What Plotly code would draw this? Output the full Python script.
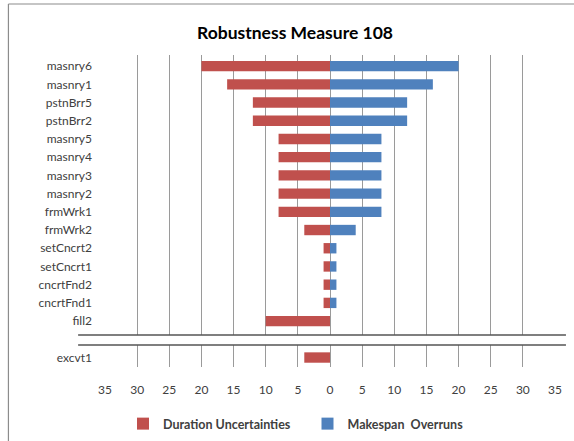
import plotly.graph_objects as go

categories = ["masnry6", "masnry1", "pstnBrr5", "pstnBrr2", "masnry5", "masnry4",
              "masnry3", "masnry2", "frmWrk1", "frmWrk2", "setCncrt2", "setCncrt1",
              "cncrtFnd2", "cncrtFnd1", "fill2", " ", "excvt1"]
duration_uncertainties = [20, 16, 12, 12, 8, 8, 8, 8, 8, 4, 1, 1, 1, 1, 10, None, 4]
makespan_overruns = [20, 16, 12, 12, 8, 8, 8, 8, 8, 4, 1, 1, 1, 1, 0, None, 0]
tick_vals = [-35, -30, -25, -20, -15, -10, -5, 0, 5, 10, 15, 20, 25, 30, 35]
tick_text = [str(abs(v)) for v in tick_vals]

RED = "#C0504D"
BLUE = "#4F81BD"
FONT = "Lato, 'Liberation Sans', sans-serif"

W, H = 574, 441
L, R, T, B = 105, 17, 55, 74
y_range = [16.52, -0.61]

fig = go.Figure()
fig.add_trace(go.Bar(
    y=categories, x=[-v if v is not None else None for v in duration_uncertainties],
    orientation="h", name="Duration Uncertainties\u00a0\u00a0\u00a0\u00a0", marker=dict(color=RED, line=dict(width=0)),
    width=0.57))
fig.add_trace(go.Bar(
    y=categories, x=makespan_overruns,
    orientation="h", name="Makespan  Overruns", marker=dict(color=BLUE, line=dict(width=0)),
    width=0.57))

plot_w = W - L - R
plot_h = H - T - B


def px_to_paper_x(px):
    return (px - L) / plot_w


def px_to_paper_y(py):
    return (H - B - py) / plot_h


def data_y_to_paper(yv):
    return (y_range[0] - yv) / (y_range[0] - y_range[1])


shapes = []
# axis break band between fill2 and excvt1
gap_idx = categories.index(" ")
b1 = data_y_to_paper(gap_idx - 0.24)
b2 = data_y_to_paper(gap_idx + 0.31)
x0b, x1b = px_to_paper_x(78), px_to_paper_x(568)
shapes.append(dict(type="rect", xref="paper", yref="paper", x0=x0b, x1=x1b, y0=b2, y1=b1,
                   fillcolor="white", line=dict(width=0), layer="above"))
for yy in (b1, b2):
    shapes.append(dict(type="line", xref="paper", yref="paper", x0=x0b, x1=x1b, y0=yy, y1=yy,
                       line=dict(color="#555555", width=1.5), layer="above"))
# chart frame (top and left edges)
shapes.append(dict(type="line", xref="paper", yref="paper", x0=px_to_paper_x(8), x1=px_to_paper_x(580),
                   y0=px_to_paper_y(4), y1=px_to_paper_y(4), line=dict(color="#8c8c8c", width=1.2)))
shapes.append(dict(type="line", xref="paper", yref="paper", x0=px_to_paper_x(8), x1=px_to_paper_x(8),
                   y0=px_to_paper_y(4), y1=px_to_paper_y(445), line=dict(color="#8c8c8c", width=1.2)))

fig.update_layout(
    width=W, height=H,
    margin=dict(l=L, r=R, t=T, b=B),
    paper_bgcolor="white", plot_bgcolor="white",
    barmode="relative",
    font=dict(family=FONT, size=12, color="#404040"),
    title=dict(text="<b>Robustness Measure 108</b>", x=295 / W, xanchor="center", xref="container",
               y=1 - 33 / H, yanchor="middle", yref="container",
               font=dict(family=FONT, size=17.5, color="#000000")),
    legend=dict(orientation="h", x=296 / W, xanchor="center", xref="container",
                y=1 - 424 / H, yanchor="middle", yref="container",
                font=dict(family=FONT, size=12.5, color="#404040", weight="bold"),
                itemwidth=30, traceorder="normal"),
    shapes=shapes,
    showlegend=True,
)
fig.update_xaxes(range=[-35, 35], tickvals=tick_vals, ticktext=tick_text,
                 showgrid=True, gridcolor="#9a9a9a", gridwidth=1.2,
                 zeroline=True, zerolinecolor="#9a9a9a", zerolinewidth=1.2,
                 showline=False, ticks="", ticklabelstandoff=14,
                 tickfont=dict(size=12, color="#404040"))
fig.update_yaxes(type="category", categoryorder="array", categoryarray=categories,
                 range=y_range, showgrid=False, zeroline=False, showline=False,
                 ticks="", ticklabelstandoff=12, tickfont=dict(size=12, color="#404040"))

fig.write_html("out.html")
